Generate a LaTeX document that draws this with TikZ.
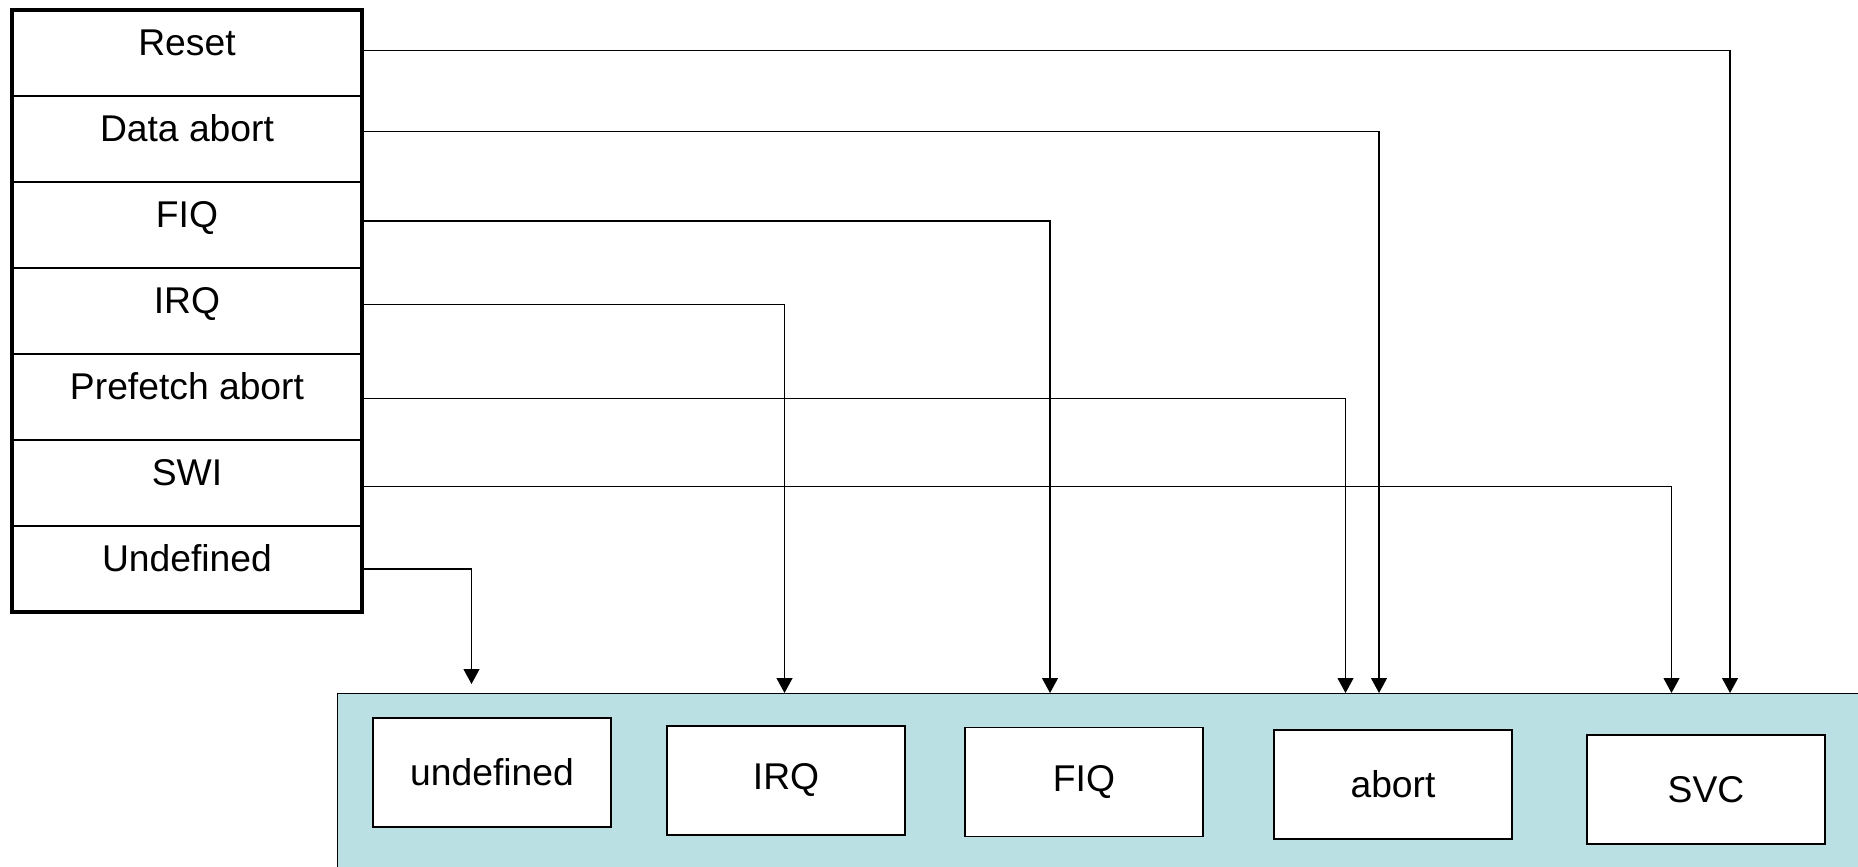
\documentclass[tikz,border=0pt]{standalone}
\usepackage{fontspec}
\setmainfont{Liberation Sans}
\usetikzlibrary{positioning,arrows.meta}
\definecolor{modefill}{HTML}{BBE0E3}

\begin{document}
\begin{tikzpicture}[
  vecrow/.style={draw, line width=1.1pt, minimum width=7cm, minimum height=1.72cm,
    inner sep=0pt, outer sep=0pt, text height=0.52cm, text depth=0.42cm,
    font=\fontsize{21.2}{25}\selectfont},
  modebox/.style={draw, line width=1.1pt, fill=white, minimum width=4.76cm,
    minimum height=2.18cm, inner sep=0pt, font=\fontsize{21.2}{25}\selectfont},
  vecline/.style={line width=0.9pt, -{Triangle[width=9pt,length=8.5pt]}}
]
\useasboundingbox (0,0) rectangle (37.16,-17.32);
\clip (0,0) rectangle (37.16,-17.32);
\node [draw, line width=0.6pt, fill=modefill, anchor=north west, minimum width=32cm,
  minimum height=5cm] (modes) at (6.74,-13.86) {};
\node [modebox] (mundef) at (9.84,-15.45) {undefined};
\node [modebox] (mirq) at (15.72,-15.61) {IRQ};
\node [modebox] (mfiq) at (21.68,-15.64) {FIQ};
\node [modebox] (mabort) at (27.86,-15.69) {abort};
\node [modebox] (msvc) at (34.12,-15.79) {SVC};
\node [vecrow, anchor=north west] (reset) at (0.24,-0.2) {Reset};
\node [vecrow, below=0pt of reset] (dabort) {Data abort};
\node [vecrow, below=0pt of dabort] (fiq) {FIQ};
\node [vecrow, below=0pt of fiq] (irq) {IRQ};
\node [vecrow, below=0pt of irq] (pabort) {Prefetch abort};
\node [vecrow, below=0pt of pabort] (swi) {SWI};
\node [vecrow, below=0pt of swi] (undef) {Undefined};
\draw [line width=2.5pt] (reset.north west) rectangle (undef.south east);
\draw [vecline] ([yshift=0.05cm]reset.east) -| (34.6,0 |- modes.north);
\draw [vecline] ([yshift=0.15cm]dabort.east) -| (27.58,0 |- modes.north);
\draw [vecline] ([yshift=0.08cm]fiq.east) -| (21.0,0 |- modes.north);
\draw [vecline] ([yshift=0.13cm]irq.east) -| (15.69,0 |- modes.north);
\draw [vecline] ([yshift=-0.03cm]pabort.east) -| (26.91,0 |- modes.north);
\draw [vecline] ([yshift=-0.07cm]swi.east) -| (33.43,0 |- modes.north);
\draw [vecline, shorten >=0.18cm] (undef.east) -| (9.43,0 |- modes.north);
\end{tikzpicture}
\end{document}
